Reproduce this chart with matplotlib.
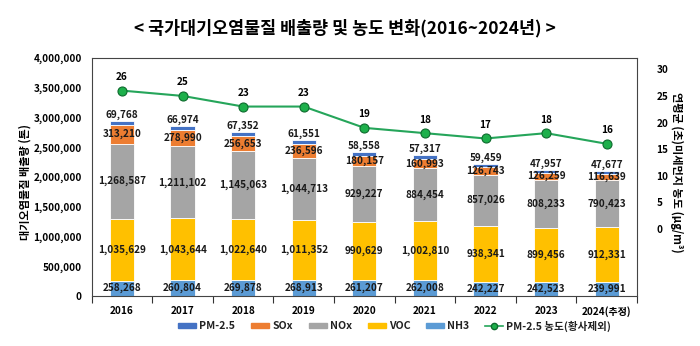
import matplotlib.pyplot as plt
import numpy as np
from matplotlib.patches import Patch
from matplotlib.lines import Line2D
from matplotlib.ticker import FuncFormatter

plt.rcParams['font.family'] = ['Noto Sans CJK KR', 'DejaVu Sans']

years = ['2016', '2017', '2018', '2019', '2020', '2021', '2022', '2023', '2024(추정)']
pm25 = [69768, 66974, 67352, 61551, 58558, 57317, 59459, 47957, 47677]
sox = [313210, 278990, 256653, 236596, 180157, 160993, 126743, 126259, 116639]
nox = [1268587, 1211102, 1145063, 1044713, 929227, 884454, 857026, 808233, 790423]
voc = [1035629, 1043644, 1022640, 1011352, 990629, 1002810, 938341, 899456, 912331]
nh3 = [258268, 260804, 269878, 268913, 261207, 262008, 242227, 242523, 239991]
conc = [26, 25, 23, 23, 19, 18, 17, 18, 16]

c_pm = '#4472C4'
c_sox = '#ED7D31'
c_nox = '#A5A5A5'
c_voc = '#FFC000'
c_nh3 = '#5B9BD5'
c_line = '#25A55A'

fig = plt.figure(figsize=(7, 3.46), dpi=100)
ax = fig.add_axes([0.131, 0.1445, 0.779, 0.6875])

x = np.arange(len(years))
w = 0.4
# stacked from the bottom: NH3, VOC, NOx, SOx, PM-2.5
series = [(nh3, c_nh3), (voc, c_voc), (nox, c_nox), (sox, c_sox), (pm25, c_pm)]
bottom = np.zeros(len(years))
for vals, col in series:
    vals = np.array(vals, dtype=float)
    ax.bar(x, vals, w, bottom=bottom, color=col, edgecolor='white', linewidth=0.6, zorder=2)
    if col != c_pm:
        for xi, b, v in zip(x, bottom, vals):
            ax.text(xi, b + v / 2, f'{int(v):,}', ha='center', va='center',
                    fontsize=7.2, fontweight='bold', color='#1a1a1a', zorder=4)
    else:
        # PM-2.5 is too thin, so its value sits on top of the bar
        for xi, b, v in zip(x, bottom, vals):
            ax.text(xi, b + v + 15000, f'{int(v):,}', ha='center', va='bottom',
                    fontsize=7.2, fontweight='bold', color='#1a1a1a', zorder=4)
    bottom += vals

ax.set_xlim(-0.5, len(years) - 0.5)
ax.set_ylim(0, 4000000)
ax.set_yticks(np.arange(0, 4000001, 500000))
ax.yaxis.set_major_formatter(FuncFormatter(lambda v, p: f'{int(v):,}'))
ax.tick_params(axis='y', length=0, pad=7, labelsize=7.2)
ax.set_xticks(x)
ax.set_xticklabels(years, fontsize=7.2, fontweight='bold')
ax.set_xticks(np.arange(-0.5, len(years)), minor=True)
ax.tick_params(axis='x', which='major', length=0, pad=7)
ax.tick_params(axis='x', which='minor', length=5, width=0.8, color='#333333')
for lab in ax.get_yticklabels():
    lab.set_fontweight('bold')
for s in ax.spines.values():
    s.set_color('#444444')
    s.set_linewidth(0.8)
ax.set_ylabel('대기오염물질 배출량 (톤)', fontsize=8, fontweight='bold')
ax.yaxis.set_label_coords(-0.11, 0.48)

ax2 = ax.twinx()
ax2.set_ylim(-12.6, 32.1)
ax2.set_yticks(np.arange(0, 31, 5))
ax2.tick_params(axis='y', length=0, pad=14, labelsize=7.2)
for lab in ax2.get_yticklabels():
    lab.set_fontweight('bold')
for s in ax2.spines.values():
    s.set_visible(False)
ax2.plot(x, conc, color=c_line, linewidth=1.5, marker='o', markersize=6.5,
         markerfacecolor='#1DB04B', markeredgecolor='#0E6B2E', markeredgewidth=0.8, zorder=5)
for xi, v in zip(x, conc):
    ax2.text(xi, v + 1.6, str(v), ha='center', va='bottom', fontsize=7.2, fontweight='bold')
ax2.set_ylabel('연평균 (초)미세먼지 농도 (μg/m³)', rotation=270, fontsize=8,
               fontweight='bold')
ax2.yaxis.set_label_coords(1.085, 0.52)

handles = [Patch(color=c_pm), Patch(color=c_sox), Patch(color=c_nox),
           Patch(color=c_voc), Patch(color=c_nh3),
           Line2D([], [], color=c_line, linewidth=1.2, marker='o', markersize=4.5,
                  markerfacecolor='#1DB04B', markeredgecolor='#0E6B2E')]
labels = ['PM-2.5', 'SOx', 'NOx', 'VOC', 'NH3', 'PM-2.5 농도(황사제외)']
leg = fig.legend(handles, labels, loc='center', bbox_to_anchor=(0.564, 0.058), ncol=6,
                 frameon=False, fontsize=7.6, handlelength=1.7, handleheight=0.45,
                 handletextpad=0.3, columnspacing=1.5)
for t in leg.get_texts():
    t.set_fontweight('bold')
    t.set_color('#222222')

fig.text(0.493, 0.918, '< 국가대기오염물질 배출량 및 농도 변화(2016~2024년) >', ha='center',
         va='center', fontsize=12.5, fontweight='bold')

fig.savefig('out.png', dpi=100)
